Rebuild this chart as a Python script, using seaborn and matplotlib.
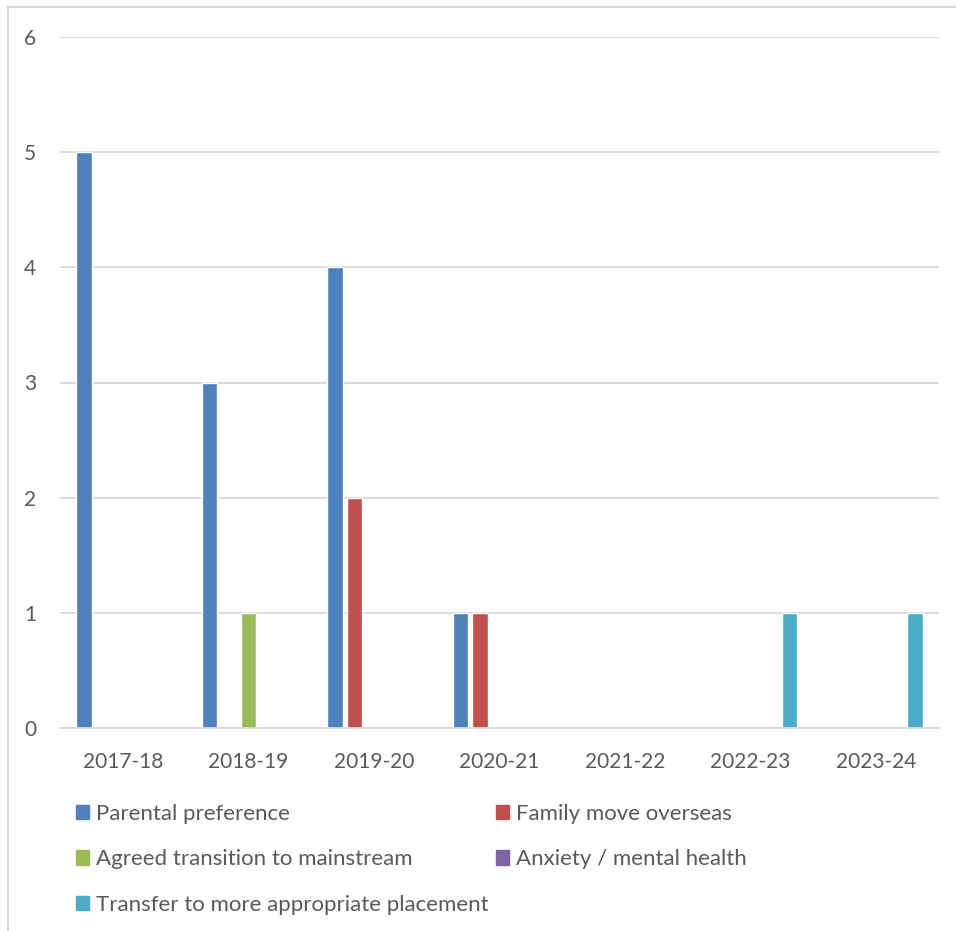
import pandas as pd
import numpy as np
import matplotlib.pyplot as plt
import matplotlib.patches as mpatches
import seaborn as sns

# ==============================
# DATA
# ==============================

years = ["2017-18", "2018-19", "2019-20", "2020-21", "2021-22", "2022-23", "2023-24"]
reasons = [
    "Parental preference",
    "Family move overseas",
    "Agreed transition to mainstream",
    "Anxiety / mental health",
    "Transfer to more appropriate placement",
]
parental = [5, 3, 4, 1, 0, 0, 0]
overseas = [0, 0, 2, 1, 0, 0, 0]
mainstream = [0, 1, 0, 0, 0, 0, 0]
anxiety = [0, 0, 0, 0, 0, 0, 0]
transfer = [0, 0, 0, 0, 0, 1, 1]

colors = ["#4F81BD", "#C0504D", "#9BBB59", "#8064A2", "#4BACC6"]

rows = []
for reason, vals in zip(reasons, [parental, overseas, mainstream, anxiety, transfer]):
    for y, v in zip(years, vals):
        rows.append({"Year": y, "Reason": reason, "Count": v})
df = pd.DataFrame(rows)

# ==============================
# PLOT
# ==============================

sns.set_style("white")
plt.rcParams["font.family"] = ["Lato", "DejaVu Sans"]

fig = plt.figure(figsize=(9.56, 9.31), dpi=100)
ax = fig.add_axes([60 / 956, 1 - 728 / 931, (939 - 60) / 956, (728 - 37) / 931])

sns.barplot(data=df, x="Year", y="Count", hue="Reason", hue_order=reasons,
            palette=colors, width=0.775, gap=0.2, saturation=1,
            errorbar=None, legend=False, ax=ax)

ax.set_ylim(0, 6)
ax.set_xlim(-0.5, len(years) - 0.5)
ax.set_yticks(range(0, 7))
ax.grid(axis="y", color="#D9D9D9", linewidth=1.3)
ax.set_axisbelow(True)
for side in ["top", "right", "left"]:
    ax.spines[side].set_visible(False)
ax.spines["bottom"].set_color("#D9D9D9")
ax.spines["bottom"].set_linewidth(1.3)
ax.tick_params(axis="both", length=0, labelsize=15, labelcolor="#595959")
ax.tick_params(axis="y", pad=17)
ax.tick_params(axis="x", pad=17)
ax.set_xlabel("")
ax.set_ylabel("")

# legend, Excel style below the plot (column-first order)
order = [0, 2, 4, 1, 3]
handles = [mpatches.Patch(color=colors[i]) for i in order]
labels = [reasons[i] for i in order]
fig.legend(handles, labels, ncol=2, loc="upper left",
           bbox_to_anchor=(56 / 956, 1 - 784 / 931), frameon=False,
           fontsize=16, labelcolor="#595959", handlelength=0.6,
           handleheight=0.6, handletextpad=0.3, labelspacing=1.14,
           columnspacing=0.33)

# outer chart border
fig.add_artist(mpatches.Rectangle((8 / 956, -0.01), 1.02, 1 - 7.5 / 931 + 0.01,
                                  transform=fig.transFigure, fill=False,
                                  edgecolor="#D9D9D9", linewidth=1.5))

plt.savefig("out.png", dpi=100)
